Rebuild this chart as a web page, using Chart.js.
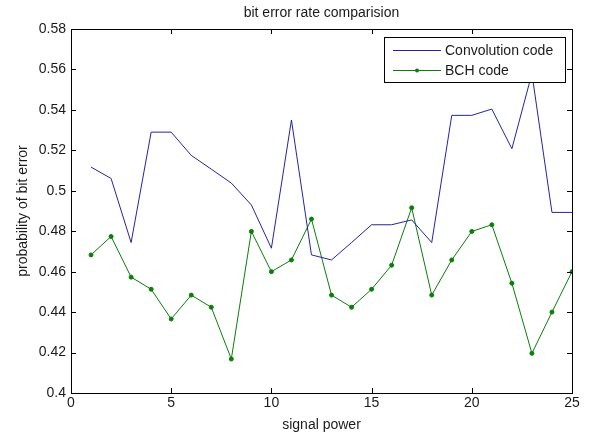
<!DOCTYPE html>
<html>
<head>
<meta charset="utf-8">
<script src="https://cdn.jsdelivr.net/npm/chart.js@4.4.0/dist/chart.umd.min.js"></script>
<style>
  html, body { margin: 0; padding: 0; background: #fff; }
  #wrap { width: 592px; height: 434px; }
</style>
</head>
<body>
<div id="wrap"><canvas id="berChart"></canvas></div>
<script>
// signal power values (x)
const signalPower = [1, 2, 3, 4, 5, 6, 7, 8, 9, 10, 11, 12, 13, 14, 15, 16, 17, 18, 19, 20, 21, 22, 23, 24, 25];

// bit error probability
const convolutionBer = [0.5117, 0.5061, 0.4744, 0.529, 0.529, 0.5175, 0.5107, 0.5038, 0.493, 0.4716,
    0.535, 0.4683, 0.4658, 0.4744, 0.4832, 0.4832, 0.4856, 0.4744, 0.5373, 0.5373,
    0.5404, 0.5208, 0.558, 0.4893, 0.4893];
const bchBer = [0.4683, 0.4774, 0.4573, 0.4513, 0.4366, 0.4484, 0.4424, 0.4168, 0.4799, 0.46,
    0.4658, 0.486, 0.4484, 0.4424, 0.4513, 0.4632, 0.4916, 0.4484, 0.4658, 0.4799,
    0.4832, 0.4543, 0.4196, 0.44, 0.46];

const xTicks = [0, 5, 10, 15, 20, 25];
const yTicks = [0.4, 0.42, 0.44, 0.46, 0.48, 0.5, 0.52, 0.54, 0.56, 0.58];

const chartTitle = 'bit error rate comparision';

const colors = {
    conv: '#2424a0',
    bch: '#0a7d0a',
    axis: '#000000',
    text: '#1a1a1a'
};
const FONT = '"Liberation Sans", Arial, sans-serif';

// Matlab style box with inward ticks on all four sides, title centred over the axes
const boxPlugin = {
    id: 'matlabBox',
    afterDatasetsDraw(chart) {
        const { ctx, chartArea: a, scales } = chart;
        ctx.save();
        ctx.strokeStyle = colors.axis;
        ctx.lineWidth = 1;
        ctx.strokeRect(a.left + 0.5, a.top + 0.5, a.right - a.left, a.bottom - a.top);
        const len = 5;
        ctx.beginPath();
        xTicks.forEach(v => {
            const px = Math.round(scales.x.getPixelForValue(v)) + 0.5;
            ctx.moveTo(px, a.bottom); ctx.lineTo(px, a.bottom - len);
            ctx.moveTo(px, a.top); ctx.lineTo(px, a.top + len);
        });
        yTicks.forEach(v => {
            const py = Math.round(scales.y.getPixelForValue(v)) + 0.5;
            ctx.moveTo(a.left, py); ctx.lineTo(a.left + len, py);
            ctx.moveTo(a.right, py); ctx.lineTo(a.right - len, py);
        });
        ctx.stroke();

        ctx.fillStyle = colors.text;
        ctx.font = '14px ' + FONT;
        ctx.textAlign = 'center';
        ctx.textBaseline = 'middle';
        ctx.fillText(chartTitle, (a.left + a.right) / 2, 13);
        ctx.restore();
    }
};

// legend box inside the plot, drawn over the lines like Matlab does
const legendPlugin = {
    id: 'boxLegend',
    afterDraw(chart) {
        const { ctx, chartArea: a } = chart;
        const w = 181, h = 45;
        const x0 = a.right - 7 - w, y0 = a.top + 8;
        ctx.save();
        ctx.fillStyle = '#fff';
        ctx.fillRect(x0, y0, w, h);
        ctx.strokeStyle = colors.axis;
        ctx.lineWidth = 1;
        ctx.strokeRect(x0 + 0.5, y0 + 0.5, w, h);
        ctx.font = '14px ' + FONT;
        ctx.textBaseline = 'middle';
        chart.data.datasets.forEach((ds, i) => {
            const y = y0 + 13 + i * 20;
            ctx.strokeStyle = ds.borderColor;
            ctx.beginPath();
            ctx.moveTo(x0 + 9, y + 0.5);
            ctx.lineTo(x0 + 57, y + 0.5);
            ctx.stroke();
            if (ds.pointRadius > 0) {
                ctx.fillStyle = ds.pointBackgroundColor;
                ctx.beginPath();
                ctx.arc(x0 + 33, y + 0.5, ds.pointRadius, 0, Math.PI * 2);
                ctx.fill();
            }
            ctx.fillStyle = colors.text;
            ctx.fillText(ds.label, x0 + 61, y + 1);
        });
        ctx.restore();
    }
};

const ctx = document.getElementById('berChart').getContext('2d');
const berChart = new Chart(ctx, {
    type: 'line',
    data: {
        datasets: [{
            label: 'Convolution code',
            data: signalPower.map((x, i) => ({ x: x, y: convolutionBer[i] })),
            borderColor: colors.conv,
            borderWidth: 1,
            pointRadius: 0,
            tension: 0,
            fill: false
        }, {
            label: 'BCH code',
            data: signalPower.map((x, i) => ({ x: x, y: bchBer[i] })),
            borderColor: colors.bch,
            pointBackgroundColor: colors.bch,
            pointBorderColor: colors.bch,
            borderWidth: 1,
            pointRadius: 2,
            tension: 0,
            fill: false
        }]
    },
    options: {
        responsive: true,
        maintainAspectRatio: false,
        animation: false,
        layout: {
            padding: { left: 0, right: 20, top: 29, bottom: 0 }
        },
        scales: {
            x: {
                type: 'linear',
                min: 0,
                max: 25,
                afterBuildTicks: s => { s.ticks = xTicks.map(v => ({ value: v })); },
                afterFit: s => { s.height = 41; },
                grid: { display: false, drawTicks: false },
                border: { display: false },
                ticks: {
                    color: colors.text,
                    font: { family: FONT, size: 14 },
                    padding: 2,
                    maxRotation: 0
                },
                title: {
                    display: true,
                    text: 'signal power',
                    color: colors.text,
                    font: { family: FONT, size: 14 },
                    padding: { top: 4, bottom: 0 }
                }
            },
            y: {
                min: 0.4,
                max: 0.58,
                afterBuildTicks: s => { s.ticks = yTicks.map(v => ({ value: v })); },
                afterFit: s => { s.width = 71; },
                grid: { display: false, drawTicks: false },
                border: { display: false },
                ticks: {
                    color: colors.text,
                    font: { family: FONT, size: 14 },
                    padding: 5,
                    callback: v => String(+v.toFixed(2))
                },
                title: {
                    display: true,
                    text: 'probability of bit error',
                    color: colors.text,
                    font: { family: FONT, size: 14 },
                    padding: { top: 15, bottom: 0 }
                }
            }
        },
        plugins: {
            legend: { display: false },
            tooltip: { enabled: false },
            title: { display: false }
        }
    },
    plugins: [boxPlugin, legendPlugin]
});
</script>
</body>
</html>
